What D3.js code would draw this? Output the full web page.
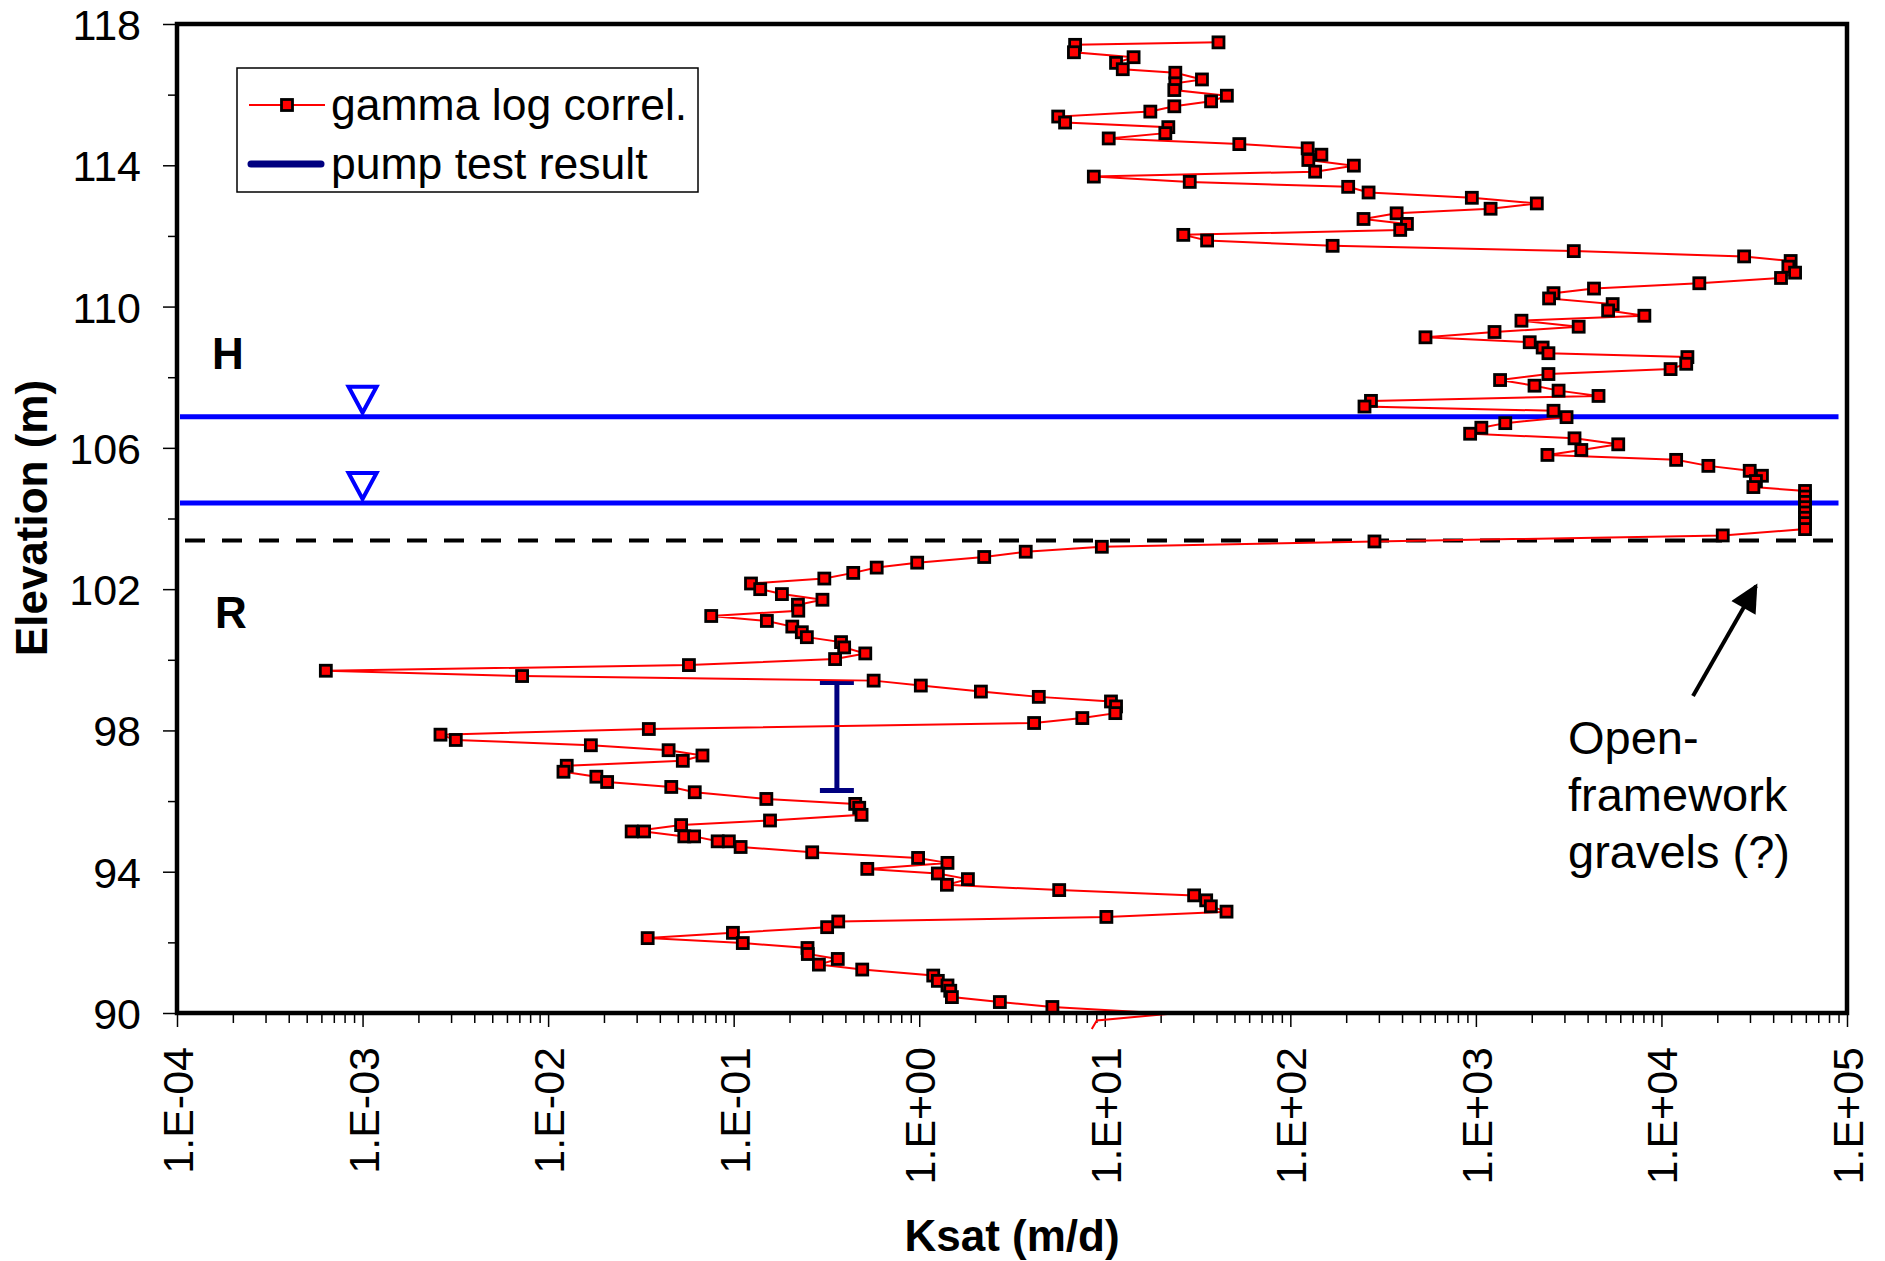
<!DOCTYPE html>
<html>
<head>
<meta charset="utf-8">
<script src="https://cdn.jsdelivr.net/npm/d3@7/dist/d3.min.js"></script>
<style>
  body { margin: 0; background: #fff; }
  text { font-family: "Liberation Sans", Arial, sans-serif; fill: #000; }
</style>
</head>
<body>
<div id="chart"></div>
<script>
// gamma log correlation: elevation (m) and Ksat (m/d)
const elevation = [
  117.48, 117.41, 117.20, 117.06, 116.90, 116.72, 116.62, 116.43, 116.32, 116.13,
  115.97, 115.81, 115.67, 115.52, 115.38, 115.21, 115.08, 114.91, 114.76, 114.60,
  114.48, 114.30, 114.15, 113.99, 113.82, 113.68, 113.53, 113.39, 113.23, 113.08,
  112.92, 112.77, 112.64, 112.48, 112.34, 112.17, 112.03, 111.87, 111.72, 111.57,
  111.42, 111.29, 111.13, 110.96, 110.81, 110.66, 110.51, 110.38, 110.23, 110.07,
  109.89, 109.74, 109.60, 109.43, 109.28, 109.13, 108.99, 108.84, 108.68, 108.57,
  108.38, 108.23, 108.09, 107.92, 107.76, 107.62, 107.47, 107.33, 107.17, 107.05,
  106.87, 106.70, 106.57, 106.40, 106.27, 106.10, 105.94, 105.80, 105.66, 105.49,
  105.35, 105.21, 105.06, 104.89, 104.78, 104.62, 104.47, 104.32, 104.17, 104.02,
  103.87, 103.70, 103.52, 103.35, 103.20, 103.06, 102.91, 102.75, 102.61, 102.46,
  102.30, 102.16, 102.00, 101.86, 101.70, 101.56, 101.39, 101.24, 101.10, 100.94,
  100.78, 100.64, 100.50, 100.35, 100.18, 100.02, 99.85, 99.69, 99.54, 99.41,
  99.27, 99.10, 98.95, 98.82, 98.68, 98.49, 98.35, 98.21, 98.04, 97.88,
  97.73, 97.58, 97.44, 97.29, 97.14, 97.00, 96.83, 96.69, 96.54, 96.40,
  96.25, 96.06, 95.92, 95.81, 95.61, 95.45, 95.32, 95.14, 95.14, 95.00,
  95.00, 94.86, 94.86, 94.70, 94.55, 94.39, 94.25, 94.08, 93.95, 93.79,
  93.63, 93.48, 93.33, 93.19, 93.02, 92.87, 92.72, 92.59, 92.43, 92.27,
  92.12, 91.98, 91.84, 91.67, 91.53, 91.37, 91.23, 91.06, 90.91, 90.78,
  90.63, 90.45, 90.31, 90.17, 89.98, 89.79, 89.55
];

const ksat = [
  41.0, 6.92, 6.82, 14.3, 11.5, 12.5, 24.0, 33.4, 24.0, 23.7,
  45.5, 37.4, 23.7, 17.6, 5.61, 6.11, 22.0, 21.2, 10.5, 53.1,
  124, 147, 125, 220, 136, 8.73, 28.7, 205, 264, 951,
  2130, 1200, 374, 248, 425, 391, 26.5, 35.6, 169, 3370,
  27900, 49700, 48300, 52500, 44100, 16000, 4330, 2620, 2480, 5460,
  5160, 8090, 1760, 3580, 1260, 535, 1950, 2290, 2460, 13800,
  13600, 11200, 2460, 1350, 2070, 2790, 4580, 272, 251, 2620,
  3080, 1440, 1070, 931, 3400, 5850, 3700, 2430, 12000, 17900,
  29900, 34800, 32300, 31300, 59400, 59400, 59400, 59400, 59400, 59400,
  59400, 59400, 21400, 284, 9.64, 3.75, 2.24, 0.975, 0.590, 0.441,
  0.308, 0.124, 0.139, 0.182, 0.301, 0.222, 0.223, 0.0757, 0.151, 0.207,
  0.233, 0.248, 0.379, 0.394, 0.512, 0.352, 0.0574, 0.000634, 0.00724, 0.568,
  1.02, 2.15, 4.41, 10.8, 11.5, 11.4, 7.57, 4.16, 0.0349, 0.00263,
  0.00318, 0.0170, 0.0446, 0.0679, 0.0532, 0.0126, 0.0121, 0.0182, 0.0208, 0.0461,
  0.0617, 0.150, 0.452, 0.475, 0.489, 0.157, 0.0521, 0.0282, 0.0329, 0.0542,
  0.0612, 0.0820, 0.0942, 0.109, 0.265, 0.986, 1.42, 0.525, 1.26, 1.83,
  1.41, 5.68, 30.3, 35.2, 37.3, 45.3, 10.2, 0.366, 0.319, 0.0991,
  0.0344, 0.112, 0.250, 0.251, 0.364, 0.288, 0.493, 1.19, 1.26, 1.42,
  1.47, 1.50, 2.72, 5.22, 22.5, 9.06, 8.51
];

// pump test result (Ksat, elevation interval)
const pumpKsat = 0.36;
const pumpElevation = [96.3, 99.36];

// water levels and the H / R contact
const waterLevels = [106.88, 104.44];
const contactElevation = 103.38;
const lineSpan = [1e-4, 9e4];

const xTickValues = [1e-4, 1e-3, 1e-2, 1e-1, 1e0, 1e1, 1e2, 1e3, 1e4, 1e5];
const yTickValues = [90, 94, 98, 102, 106, 110, 114, 118];
const yMinorValues = [92, 96, 100, 104, 108, 112, 116];

const legendLabels = ['gamma log correl.', 'pump test result'];
const noteLines = ['Open-', 'framework', 'gravels (?)'];

const W = 1885, H = 1261;
const margin = { top: 24, right: 38, bottom: 248, left: 177 };
const width = W - margin.left - margin.right;
const height = H - margin.top - margin.bottom;

const svg = d3.select('#chart')
  .append('svg')
  .attr('width', W)
  .attr('height', H);

const g = svg.append('g')
  .attr('transform', `translate(${margin.left},${margin.top})`);

const x = d3.scaleLog().domain([1e-4, 1e5]).range([0, width]);
const y = d3.scaleLinear().domain([90, 118]).range([height, 0]);

const expFormat = (d) => {
  const e = Math.round(Math.log10(d));
  return `1.E${e < 0 ? '-' : '+'}${String(Math.abs(e)).padStart(2, '0')}`;
};

// x axis: minor ticks then decades
const xMinor = [];
for (let k = -4; k < 5; k++) {
  for (let m = 2; m < 10; m++) xMinor.push(m * Math.pow(10, k));
}

g.append('g')
  .attr('transform', `translate(0,${height})`)
  .call(d3.axisBottom(x).tickValues(xMinor).tickSize(10).tickFormat(''))
  .call((a) => a.select('.domain').remove())
  .selectAll('line').attr('stroke-width', 1.5);

const xAxis = g.append('g')
  .attr('transform', `translate(0,${height})`)
  .call(d3.axisBottom(x).tickValues(xTickValues).tickSize(14).tickFormat(expFormat));
xAxis.select('.domain').remove();
xAxis.selectAll('line').attr('stroke-width', 1.5);
xAxis.selectAll('text')
  .attr('transform', 'rotate(-90)')
  .attr('x', -34)
  .attr('y', 0)
  .attr('dy', '0.36em')
  .attr('text-anchor', 'end')
  .style('font-size', '43px')
  .style('font-family', '"Liberation Sans", Arial, sans-serif');

// y axis
g.append('g')
  .call(d3.axisLeft(y).tickValues(yMinorValues).tickSize(9).tickFormat(''))
  .call((a) => a.select('.domain').remove())
  .selectAll('line').attr('stroke-width', 1.5);

const yAxis = g.append('g')
  .call(d3.axisLeft(y).tickValues(yTickValues).tickSize(14).tickPadding(22).tickFormat(d3.format('d')));
yAxis.select('.domain').remove();
yAxis.selectAll('line').attr('stroke-width', 1.5);
yAxis.selectAll('text')
  .attr('dy', '0.36em')
  .style('font-size', '43px')
  .style('font-family', '"Liberation Sans", Arial, sans-serif');

// water levels with triangles
waterLevels.forEach((lv) => {
  g.append('line')
    .attr('x1', x(lineSpan[0]) + 3)
    .attr('x2', x(lineSpan[1]))
    .attr('y1', y(lv))
    .attr('y2', y(lv))
    .attr('stroke', '#0000ff')
    .attr('stroke-width', 5);
  g.append('path')
    .attr('transform', `translate(${x(1e-3)},${y(lv)})`)
    .attr('d', 'M-14,-30L14,-30L0,-4Z')
    .attr('fill', '#fff')
    .attr('stroke', '#0000ff')
    .attr('stroke-width', 4);
});

// contact between H and R
g.append('line')
  .attr('x1', x(lineSpan[0]) + 8)
  .attr('x2', x(lineSpan[1]))
  .attr('y1', y(contactElevation))
  .attr('y2', y(contactElevation))
  .attr('stroke', '#000')
  .attr('stroke-width', 4)
  .attr('stroke-dasharray', '20,17');

// pump test interval
const px = x(pumpKsat);
g.append('line')
  .attr('x1', px).attr('x2', px)
  .attr('y1', y(pumpElevation[0])).attr('y2', y(pumpElevation[1]))
  .attr('stroke', '#000080').attr('stroke-width', 5);
pumpElevation.forEach((e) => {
  g.append('line')
    .attr('x1', px - 17).attr('x2', px + 17)
    .attr('y1', y(e)).attr('y2', y(e))
    .attr('stroke', '#000080').attr('stroke-width', 5);
});

// gamma log series
const series = elevation.map((e, i) => ({ e, k: ksat[i] }));

g.append('path')
  .datum(series)
  .attr('fill', 'none')
  .attr('stroke', '#ff0000')
  .attr('stroke-width', 2)
  .attr('d', d3.line().x((d) => x(d.k)).y((d) => y(d.e)));

g.selectAll('.pt')
  .data(series.filter((d) => d.e >= 90))
  .enter()
  .append('rect')
  .attr('class', 'pt')
  .attr('x', (d) => x(d.k) - 5.5)
  .attr('y', (d) => y(d.e) - 5.5)
  .attr('width', 11)
  .attr('height', 11)
  .attr('fill', '#ff0000')
  .attr('stroke', '#000')
  .attr('stroke-width', 2.8);

// plot frame
g.append('rect')
  .attr('width', width)
  .attr('height', height)
  .attr('fill', 'none')
  .attr('stroke', '#000')
  .attr('stroke-width', 4.5);

// unit labels
g.append('text').attr('x', 51).attr('y', 345).attr('text-anchor', 'middle')
  .style('font-size', '44px').style('font-weight', 'bold').text('H');
g.append('text').attr('x', 54).attr('y', 604).attr('text-anchor', 'middle')
  .style('font-size', '44px').style('font-weight', 'bold').text('R');

// legend
const legend = svg.append('g');
legend.append('rect')
  .attr('x', 237).attr('y', 68).attr('width', 461).attr('height', 124)
  .attr('fill', '#fff').attr('stroke', '#000').attr('stroke-width', 1.5);
legend.append('line')
  .attr('x1', 249).attr('x2', 325).attr('y1', 105).attr('y2', 105)
  .attr('stroke', '#ff0000').attr('stroke-width', 2);
legend.append('rect')
  .attr('x', 281.5).attr('y', 99.5).attr('width', 11).attr('height', 11)
  .attr('fill', '#ff0000').attr('stroke', '#000').attr('stroke-width', 2.8);
legend.append('line')
  .attr('x1', 251).attr('x2', 321).attr('y1', 164).attr('y2', 164)
  .attr('stroke', '#000080').attr('stroke-width', 7).attr('stroke-linecap', 'round');
legend.selectAll('.lt')
  .data(legendLabels)
  .enter()
  .append('text')
  .attr('x', 331)
  .attr('y', (d, i) => 120 + i * 59)
  .style('font-size', '44.5px')
  .text((d) => d);

// axis titles
svg.append('text')
  .attr('transform', 'translate(47,518) rotate(-90)')
  .attr('text-anchor', 'middle')
  .style('font-size', '44px').style('font-weight', 'bold')
  .text('Elevation (m)');
svg.append('text')
  .attr('x', margin.left + width / 2)
  .attr('y', 1251)
  .attr('text-anchor', 'middle')
  .style('font-size', '44px').style('font-weight', 'bold')
  .text('Ksat (m/d)');

// annotation with arrow
svg.append('defs').append('marker')
  .attr('id', 'arrow')
  .attr('viewBox', '0 0 10 10')
  .attr('refX', 9).attr('refY', 5)
  .attr('markerWidth', 8).attr('markerHeight', 7)
  .attr('markerUnits', 'strokeWidth')
  .attr('orient', 'auto')
  .append('path').attr('d', 'M0,0L10,5L0,10Z').attr('fill', '#000');
svg.append('line')
  .attr('x1', 1693).attr('y1', 696).attr('x2', 1756).attr('y2', 586)
  .attr('stroke', '#000').attr('stroke-width', 4)
  .attr('marker-end', 'url(#arrow)');
svg.selectAll('.note')
  .data(noteLines)
  .enter()
  .append('text')
  .attr('x', 1568)
  .attr('y', (d, i) => 754 + i * 57)
  .style('font-size', '47px')
  .text((d) => d);
</script>
</body>
</html>
